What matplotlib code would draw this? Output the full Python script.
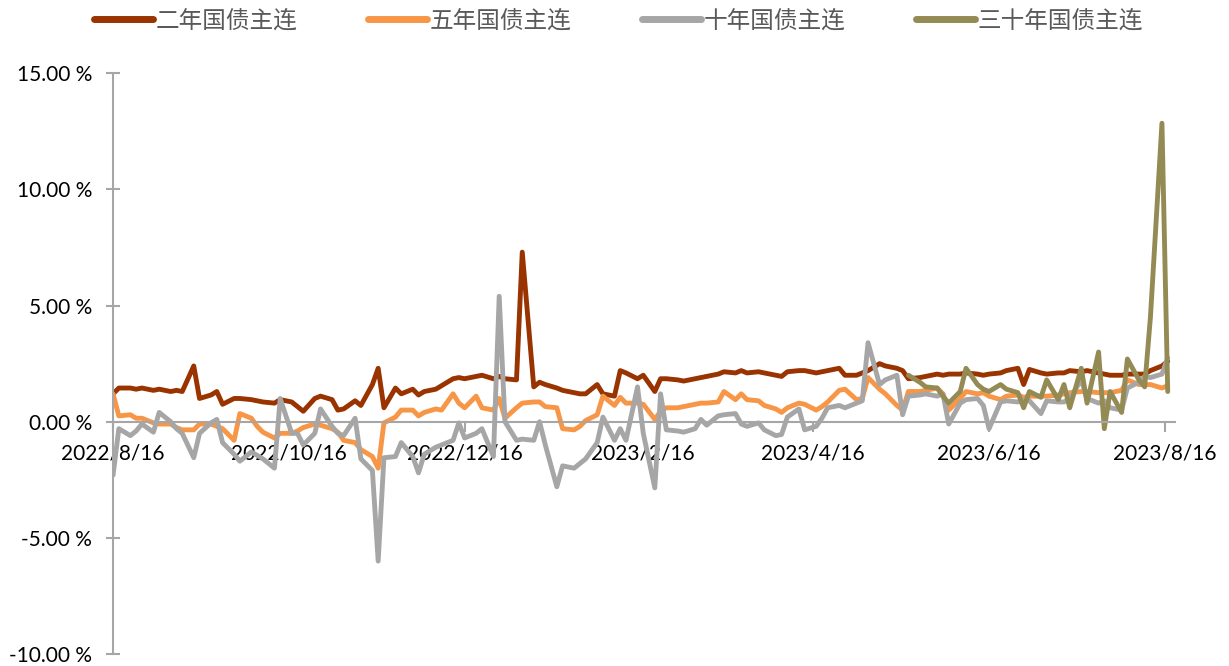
import numpy as np
import pandas as pd
import matplotlib
matplotlib.use("Agg")
import matplotlib.pyplot as plt
from matplotlib.lines import Line2D

# -----------------------------------------------------------------------
# Data (every second business day, %)
# -----------------------------------------------------------------------
dates = pd.bdate_range("2022-08-16", periods=132, freq="2B")

two_year = [
    1.2, 1.45, 1.45, 1.4, 1.45, 1.35, 1.4, 1.3, 1.35, 1.3,
    2.4, 1.0, 1.15, 1.3, 0.75, 1.0, 1.0, 0.95, 0.9, 0.85,
    0.8, 0.95, 0.85, 0.65, 0.45, 1.0, 1.1, 0.95, 0.5, 0.55,
    0.9, 0.7, 1.6, 2.3, 0.6, 1.45, 1.2, 1.4, 1.15, 1.3,
    1.4, 1.55, 1.85, 1.9, 1.85, 1.95, 2.0, 1.85, 1.95, 1.85,
    1.8, 7.3, 1.5, 1.7, 1.6, 1.45, 1.35, 1.25, 1.2, 1.2,
    1.6, 1.2, 1.1, 2.2, 2.1, 1.85, 2.0, 1.3, 1.85, 1.85,
    1.8, 1.75, 1.85, 1.9, 1.95, 2.05, 2.15, 2.1, 2.2, 2.1,
    2.15, 2.1, 2.0, 1.95, 2.15, 2.2, 2.2, 2.1, 2.15, 2.2,
    2.3, 2.0, 2.0, 2.1, 2.2, 2.5, 2.4, 2.3, 2.2, 1.85,
    1.9, 1.95, 2.05, 2.0, 2.05, 2.05, 2.1, 2.05, 2.0, 2.05,
    2.1, 2.2, 2.3, 1.6, 2.25, 2.1, 2.05, 2.1, 2.1, 2.2,
    2.15, 2.2, 2.1, 2.05, 2.0, 2.0, 2.05, 2.05, 2.05, 2.2,
    2.4, 2.6,
]

five_year = [
    1.2, 0.25, 0.3, 0.15, 0.15, -0.05, -0.1, -0.1, -0.25, -0.35,
    -0.35, -0.1, -0.1, -0.2, -0.3, -0.8, 0.35, 0.15, -0.2, -0.45,
    -0.7, -0.5, -0.5, -0.4, -0.25, -0.1, -0.15, -0.3, -0.45, -0.8,
    -0.9, -1.2, -1.5, -2.0, -0.05, 0.2, 0.5, 0.5, 0.25, 0.4,
    0.55, 0.5, 1.2, 0.8, 0.6, 1.1, 0.6, 0.5, 1.0, 0.15,
    0.6, 0.8, 0.85, 0.85, 0.65, 0.6, -0.3, -0.35, -0.2, 0.05,
    0.3, 1.1, 0.7, 1.05, 0.8, 0.8, 0.75, 0.1, 0.45, 0.6,
    0.6, 0.65, 0.75, 0.8, 0.8, 0.85, 1.3, 0.95, 1.2, 0.95,
    0.9, 0.7, 0.55, 0.4, 0.6, 0.8, 0.75, 0.5, 0.65, 0.85,
    1.35, 1.4, 0.95, 1.0, 1.9, 1.4, 1.2, 0.7, 0.5, 1.3,
    1.3, 1.35, 1.45, 1.2, 0.5, 1.0, 1.3, 1.2, 1.25, 1.1,
    0.95, 1.1, 1.15, 1.05, 1.1, 1.1, 1.1, 1.15, 1.2, 1.25,
    1.3, 1.3, 1.25, 1.25, 1.25, 1.35, 1.8, 1.6, 1.6, 1.6,
    1.45, 1.55,
]

ten_year = [
    -2.3, -0.3, -0.6, -0.4, -0.1, -0.45, 0.4, 0.0, -0.3, -0.5,
    -1.55, -0.5, -0.05, 0.1, -0.9, -1.4, -1.7, -1.3, -1.45, -1.6,
    -2.0, 1.0, -0.5, -0.5, -1.0, -0.5, 0.55, -0.2, -0.5, -0.6,
    0.15, -1.6, -2.1, -6.0, -1.55, -1.5, -0.9, -1.5, -2.2, -1.4,
    -1.1, -1.0, -0.8, -0.05, -0.7, -0.5, -0.3, -1.5, 5.4, 0.0,
    -0.8, -0.75, -0.8, 0.0, -1.0, -2.8, -1.9, -2.0, -1.8, -1.6,
    -0.9, 0.2, -0.8, -0.3, -0.8, 1.5, -0.5, -2.85, 1.2, -0.35,
    -0.4, -0.45, -0.3, 0.1, -0.15, 0.25, 0.3, 0.35, -0.1, -0.2,
    -0.05, -0.35, -0.6, -0.55, 0.2, 0.55, -0.35, -0.2, 0.15, 0.6,
    0.7, 0.6, 0.8, 0.9, 3.4, 1.6, 1.8, 2.0, 0.3, 1.1,
    1.15, 1.2, 1.1, 1.2, -0.1, 0.8, 0.95, 1.0, 0.7, -0.3,
    0.85, 0.9, 0.85, 0.95, 0.9, 0.35, 0.9, 0.85, 0.85, 1.0,
    1.8, 1.0, 0.8, 0.9, 0.6, 0.5, 1.45, 1.7, 1.95, 1.9,
    2.05, 2.75,
]

# 30-year contract only listed from spring 2023
thirty_year = [np.nan] * 99 + [
    2.0, 1.7, 1.5, 1.45, 1.1, 0.8, 1.3, 2.3, 1.6, 1.4, 1.3,
    1.6, 1.4, 1.25, 0.6, 1.3, 1.05, 1.8, 0.95, 1.6, 0.6,
    2.3, 0.8, 3.0, -0.3, 1.3, 0.4, 2.7, 1.8, 1.5, 4.5,
    12.85, 1.3,
]

series_names = ["二年国债主连", "五年国债主连", "十年国债主连", "三十年国债主连"]
series_colors = ["#993300", "#F79646", "#A6A6A6", "#948A54"]

tick_dates = pd.to_datetime(["2022-08-16", "2022-10-16", "2022-12-16", "2023-02-16",
                             "2023-04-16", "2023-06-16", "2023-08-16"])
tick_labels = ["2022/8/16", "2022/10/16", "2022/12/16", "2023/2/16",
               "2023/4/16", "2023/6/16", "2023/8/16"]
y_ticks = [-10, -5, 0, 5, 10, 15]

# -----------------------------------------------------------------------
# Plot
# -----------------------------------------------------------------------
plt.rcParams["font.family"] = ["Lato", "DejaVu Sans"]
AXIS_GREY = "#A6A6A6"

fig = plt.figure(figsize=(12.29, 6.66), dpi=100)
ax = fig.add_axes([0.092, 0.018, 0.864, 0.872])

for vals, col in zip([two_year, five_year, ten_year, thirty_year], series_colors):
    ax.plot(dates, vals, color=col, lw=3.5,
            solid_joinstyle="round", solid_capstyle="round")

ax.set_ylim(-10, 15)
ax.set_xlim(pd.Timestamp("2022-08-16"), pd.Timestamp("2023-08-19 12:00"))

ax.spines["top"].set_visible(False)
ax.spines["right"].set_visible(False)
ax.spines["bottom"].set_position(("data", 0))
ax.spines["bottom"].set_color(AXIS_GREY)
ax.spines["left"].set_color(AXIS_GREY)
ax.spines["bottom"].set_linewidth(1.5)
ax.spines["left"].set_linewidth(1.5)

ax.set_xticks(tick_dates)
ax.set_xticklabels(tick_labels)
ax.set_yticks(y_ticks)
ax.set_yticklabels([f"{v:.2f} %" for v in y_ticks])

ax.tick_params(axis="x", direction="out", length=7, width=1.5, color=AXIS_GREY,
               labelsize=15, pad=9, labelcolor="black")
ax.tick_params(axis="y", direction="inout", length=10, width=1.5, color=AXIS_GREY,
               labelsize=15, pad=10, labelcolor="black")

handles = [Line2D([0], [0], color=c, lw=5, solid_capstyle="round") for c in series_colors]
fig.legend(handles, series_names, loc="upper center", bbox_to_anchor=(0.503, 1.018),
           ncol=4, frameon=False, handlelength=2.5, handletextpad=0.1,
           columnspacing=3.0, labelcolor="#595959",
           prop={"family": ["Noto Sans CJK SC", "DejaVu Sans"], "size": 17})

fig.savefig("out.png", dpi=100)
